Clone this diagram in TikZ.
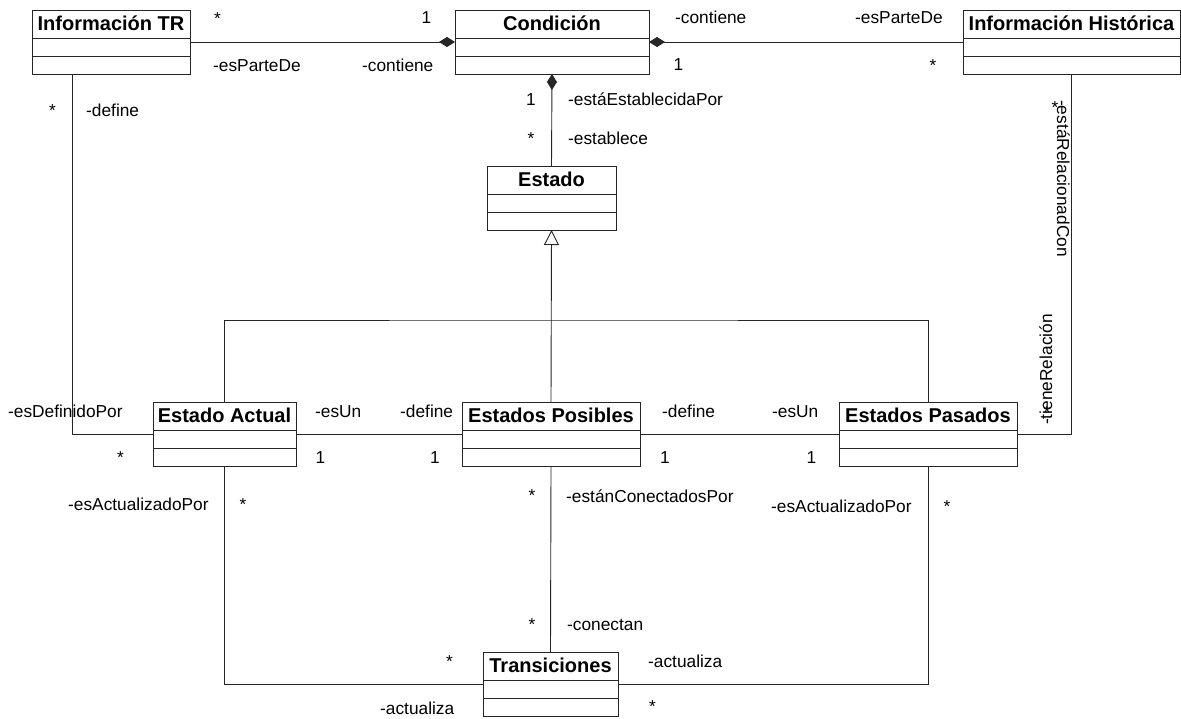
\documentclass[tikz,border=0pt]{standalone}
\usepackage{fontspec}
\setmainfont{Liberation Sans}
\usetikzlibrary{arrows.meta}

% UML class with a title row and two empty compartments
% #1 node name, #2 left x, #3 top y, #4 right x, #5 title
\newcommand{\umlclass}[5]{%
  \node[classbox, anchor=north west, minimum width={(#4-#2)*1pt}, minimum height=64pt] (#1) at (#2,#3) {};
  \draw[assoc] ([yshift=-28pt]#1.north west) -- ([yshift=-28pt]#1.north east);
  \draw[assoc] ([yshift=-46pt]#1.north west) -- ([yshift=-46pt]#1.north east);
  \node[classtitle, anchor=base] at ([yshift=-20.5pt]#1.north) {#5};
}

\begin{document}
\begin{tikzpicture}[x=1pt, y=-1pt,
  classbox/.style={draw=black!85, line width=0.9pt, fill=white, inner sep=0pt, outer sep=0pt},
  classtitle/.style={font=\fontsize{20}{24}\selectfont\bfseries, inner sep=0pt},
  lbl/.style={font=\fontsize{17.3}{20}\selectfont, inner sep=0pt},
  assoc/.style={draw=black!85, line width=0.9pt},
  compo/.style={assoc, -{Diamond[length=16pt,width=10pt]}},
  gener/.style={assoc, -{Triangle[open,fill=white,length=15pt,width=15pt]}}]

\useasboundingbox (0,0) rectangle (1181,719);

% classes
\umlclass{infotr}{32}{10}{190}{Información TR}
\umlclass{cond}{455}{10}{649}{Condición}
\umlclass{infohist}{963}{10}{1180}{Información Histórica}
\umlclass{estado}{487}{166}{616}{Estado}
\umlclass{actual}{153}{402}{296}{Estado Actual}
\umlclass{posibles}{462}{402}{640}{Estados Posibles}
\umlclass{pasados}{839}{402}{1017}{Estados Pasados}
\umlclass{trans}{483}{652}{618}{Transiciones}

% compositions into Condición
\draw[compo] (infotr.east) -- (cond.west);
\draw[compo] (infohist.west) -- (cond.east);
\draw[compo] (estado.north) -- (cond.south);

% generalization of Estado
\coordinate (genbar) at (551,320);
\draw[assoc] (actual.north) |- (genbar) -| (pasados.north);
\draw[gener] (posibles.north) -- (estado.south);

% associations
\draw[assoc] ([xshift=40pt]infotr.south west) |- (actual.west);
\draw[assoc] (actual.east) -- (posibles.west);
\draw[assoc] (posibles.east) -- (pasados.west);
\draw[assoc] (pasados.east) -| (infohist.south);
\draw[assoc] (actual.south) |- (trans.west);
\draw[assoc] (pasados.south) |- (trans.east);
\draw[assoc] (posibles.south) -- (trans.north);

% role names and multiplicities
\node[lbl, anchor=base] (m1) at (217.5,25) {*};
\node[lbl, anchor=base] (m2) at (426.5,24) {1};
\node[lbl, anchor=base west] (r1) at (213,72) {-esParteDe};
\node[lbl, anchor=base west] (r2) at (362,72) {-contiene};
\node[lbl, anchor=base west] (r3) at (675,24) {-contiene};
\node[lbl, anchor=base west] (r4) at (855,24) {-esParteDe};
\node[lbl, anchor=base] (m3) at (678.5,71) {1};
\node[lbl, anchor=base] (m4) at (933,72) {*};
\node[lbl, anchor=base] (m5) at (531,106) {1};
\node[lbl, anchor=base west] (r5) at (568,106) {-estáEstablecidaPor};
\node[lbl, anchor=base] (m6) at (531,145) {*};
\node[lbl, anchor=base west] (r6) at (568,145) {-establece};
\node[lbl, anchor=base] (m7) at (52.5,117) {*};
\node[lbl, anchor=base west] (r7) at (86,117) {-define};

\node[lbl, anchor=base west] (r8) at (8,417) {-esDefinidoPor};
\node[lbl, anchor=base] (m8) at (120.5,463) {*};
\node[lbl, anchor=base west] (r9) at (315,417) {-esUn};
\node[lbl, anchor=base west] (r10) at (400,417) {-define};
\node[lbl, anchor=base] (m9) at (320.5,463) {1};
\node[lbl, anchor=base] (m10) at (435,463) {1};
\node[lbl, anchor=base west] (r11) at (662,417) {-define};
\node[lbl, anchor=base west] (r12) at (772,417) {-esUn};
\node[lbl, anchor=base] (m11) at (665,463) {1};
\node[lbl, anchor=base] (m12) at (811.5,463) {1};

\node[lbl, anchor=base west] (r13) at (68,510) {-esActualizadoPor};
\node[lbl, anchor=base] (m13) at (243,510) {*};
\node[lbl, anchor=base] (m14) at (532,501) {*};
\node[lbl, anchor=base west] (r14) at (566,502) {-estánConectadosPor};
\node[lbl, anchor=base west] (r15) at (771,512) {-esActualizadoPor};
\node[lbl, anchor=base] (m15) at (947,512) {*};
\node[lbl, anchor=base] (m16) at (532,630) {*};
\node[lbl, anchor=base west] (r16) at (567,630) {-conectan};
\node[lbl, anchor=base] (m17) at (449.5,667) {*};
\node[lbl, anchor=base west] (r17) at (648,667) {-actualiza};
\node[lbl, anchor=base west] (r18) at (380,714) {-actualiza};
\node[lbl, anchor=base] (m18) at (652.5,712) {*};

% vertical role names along the Información Histórica link
\node[lbl, anchor=base west, rotate=-90] (r19) at (1057,100) {-estáRelacionadCon};
\node[lbl, anchor=base] (m19) at (1055,114) {*};
\node[lbl, anchor=base west, rotate=90] (r20) at (1052,425) {-tieneRelación};
\node[lbl, anchor=base] (m20) at (1047,418) {*};
\end{tikzpicture}
\end{document}
